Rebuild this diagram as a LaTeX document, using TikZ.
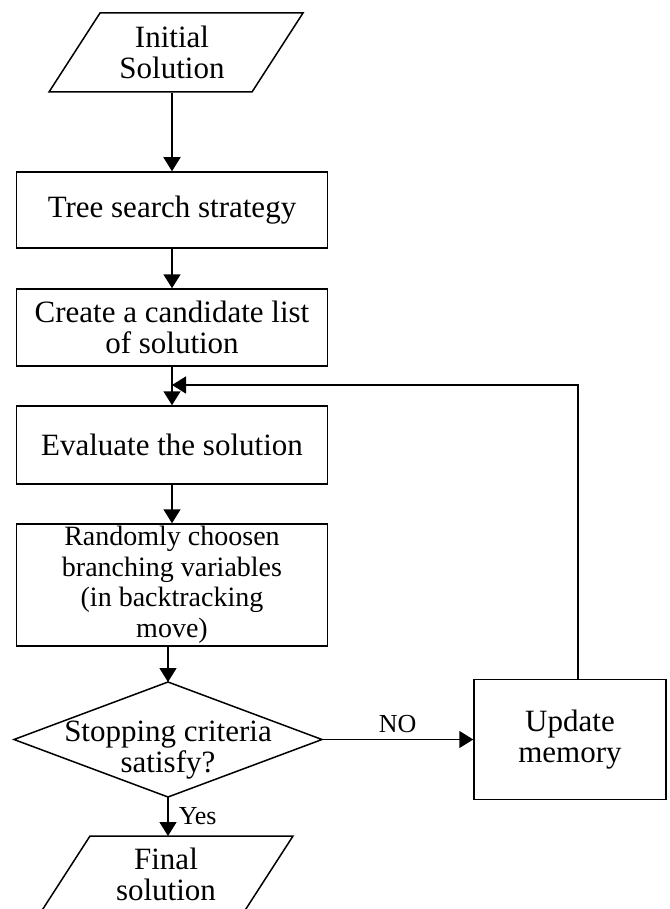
\documentclass[tikz,border=0pt]{standalone}
\usepackage{fontspec}
\setmainfont{Liberation Serif}
\usetikzlibrary{arrows.meta}
\begin{document}
\begin{tikzpicture}[x=1pt,y=-1pt,
  line width=1.5pt,
  box/.style={draw, minimum width=311pt, minimum height=#1, inner sep=2pt, align=center, font=\fontsize{31}{31}\selectfont},
  txt/.style={align=center, font=\fontsize{31}{31}\selectfont, inner sep=0pt},
  lbl/.style={font=\fontsize{26}{26}\selectfont, inner sep=0pt},
  arr/.style={-{Triangle[length=14pt,width=17pt]}}]
\useasboundingbox (0,0) rectangle (669,909);
\clip (0,0) rectangle (669,909);
% initial solution
\coordinate (i1) at (100,13);
\coordinate (i2) at (303,13);
\coordinate (i3) at (252,92);
\coordinate (i4) at (49,92);
\draw (i1) -- (i2) -- (i3) -- (i4) -- cycle;
\node[txt, minimum height=79pt] (init) at (172,52.5) {Initial\\Solution};
% boxes
\node[box=76pt] (tree) at (172,210) {Tree search strategy};
\node[box=77pt] (cand) at (172,327.5) {Create a candidate list\\of solution};
\node[box=78pt] (eval) at (172,445) {Evaluate the solution};
\node[box=122pt, inner sep=0pt, font=\fontsize{28}{30.5}\selectfont] (rand) at (172,585) {Randomly choosen\\branching variables\\(in backtracking\\move)};
% decision
\coordinate (dT) at (168,682);
\coordinate (dR) at (322,739.5);
\coordinate (dB) at (168,797);
\coordinate (dL) at (14,739.5);
\draw (dT) -- (dR) -- (dB) -- (dL) -- cycle;
\node[txt] (stop) at (168,750) {Stopping criteria\\satisfy?};
% update memory
\node[draw, minimum width=192pt, minimum height=120pt, align=center, font=\fontsize{31}{31}\selectfont] (upd) at (570,739.5) {Update\\memory};
% final solution
\coordinate (f1) at (90,836);
\coordinate (f2) at (293,836);
\coordinate (f3) at (242,915);
\coordinate (f4) at (39,915);
\draw (f1) -- (f2) -- (f3) -- (f4) -- cycle;
\coordinate (fT) at (168,836);
\node[txt] (fin) at (166,874) {Final\\solution};
% connectors
\draw[arr] (init.south) -- (tree.north);
\draw[arr] (tree.south) -- (cand.north);
\draw[arr] (cand.south) -- (eval.north);
\draw[arr] (eval.south) -- (rand.north);
\draw[arr] (rand.south -| dT) -- (dT);
\draw[arr] (dR) -- node[lbl, above=6pt] {NO} (upd.west |- dR);
\draw[arr] (dB) -- node[lbl, right=10pt] {Yes} (fT);
\coordinate (fb) at (578,385);
\draw[arr] (upd.north -| fb) -- (fb) -- (cand.south |- fb);
\end{tikzpicture}
\end{document}
